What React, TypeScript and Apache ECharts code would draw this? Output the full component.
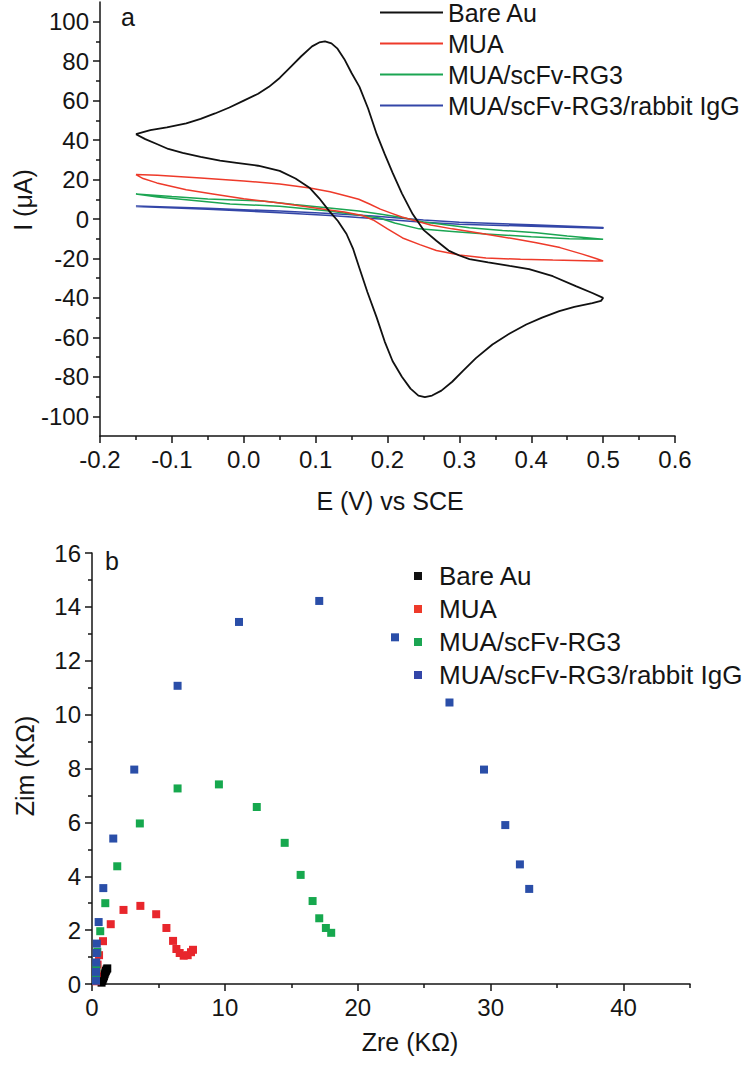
import React, { useEffect, useRef } from "react";
import * as echarts from "echarts";

// ---------- Panel a: cyclic voltammetry (E in V, I in µA) ----------
const seriesNames = ["Bare Au", "MUA", "MUA/scFv-RG3", "MUA/scFv-RG3/rabbit IgG"];

const cvBareAu: number[][] = [
  [-0.15, 43], [-0.13, 45], [-0.107, 46.5], [-0.08, 48.5], [-0.06, 50.8], [-0.04, 53.5], [-0.02, 56.5],
  [0.0, 60], [0.02, 63.5], [0.035, 67], [0.05, 71.5], [0.065, 77], [0.08, 82.5], [0.095, 87.5],
  [0.105, 89.5], [0.113, 90], [0.122, 89], [0.13, 86.5], [0.14, 81], [0.15, 74], [0.161, 67],
  [0.173, 56], [0.185, 43], [0.196, 33], [0.207, 23.5], [0.22, 13], [0.235, 2.5], [0.25, -5.5],
  [0.268, -11], [0.285, -16], [0.3, -18.5], [0.314, -20.3], [0.34, -22], [0.37, -23.8], [0.397, -25.4],
  [0.43, -29], [0.462, -34], [0.485, -37.5], [0.5, -40],
  [0.497, -41.5], [0.485, -42.6], [0.46, -44.5], [0.439, -46.7], [0.415, -50], [0.393, -53.5],
  [0.37, -58], [0.346, -63.6], [0.323, -70.5], [0.305, -77], [0.29, -82.5], [0.275, -87], [0.262, -89.5],
  [0.252, -90.3], [0.243, -89.5], [0.232, -86], [0.22, -80], [0.207, -72], [0.196, -62], [0.185, -50],
  [0.172, -37], [0.161, -25], [0.152, -15], [0.143, -7.6], [0.131, -1], [0.119, 4], [0.105, 10.5],
  [0.092, 15.7], [0.072, 20.5], [0.05, 24.4], [0.02, 27], [-0.01, 28.5], [-0.033, 29.6], [-0.06, 31.5],
  [-0.085, 33.5], [-0.105, 35.5], [-0.121, 38], [-0.137, 40.5], [-0.15, 43],
];

const cvMUA: number[][] = [
  [-0.15, 22.5], [-0.12, 22.2], [-0.06, 20.8], [0.0, 19.3], [0.05, 17.8], [0.092, 15.7], [0.12, 13.8],
  [0.143, 11.7], [0.16, 10], [0.175, 7.6], [0.19, 5], [0.205, 3], [0.22, 1], [0.235, -0.5], [0.26, -3],
  [0.29, -5], [0.314, -6.3], [0.35, -8.5], [0.38, -10.3], [0.407, -12], [0.44, -14.5], [0.471, -17.8],
  [0.49, -20], [0.5, -21.3],
  [0.49, -21.3], [0.46, -21], [0.43, -20.8], [0.385, -20.4], [0.337, -19.8], [0.3, -18.3], [0.268, -16],
  [0.245, -13], [0.221, -9.6], [0.2, -5], [0.18, -0.5], [0.165, 1.8], [0.14, 3.5], [0.119, 4.6],
  [0.085, 6.3], [0.05, 8.1], [0.0, 10.3], [-0.043, 12.7], [-0.08, 14.8], [-0.121, 18.3], [-0.14, 20.5],
  [-0.15, 22.5],
];

const cvScFv: number[][] = [
  [-0.15, 12.7], [-0.1, 11.4], [-0.05, 10.2], [0.026, 9.1], [0.07, 7.4], [0.119, 5.6], [0.16, 4],
  [0.189, 2.5], [0.22, 0.8], [0.25, -1.5], [0.314, -4.4], [0.36, -5.8], [0.407, -7], [0.45, -8.6],
  [0.5, -10.3],
  [0.453, -10], [0.4, -9], [0.337, -7.6], [0.29, -6.3], [0.244, -5], [0.21, -2], [0.189, 0.5],
  [0.119, 4], [0.05, 6.5], [-0.019, 7.6], [-0.08, 9.8], [-0.12, 11.2], [-0.15, 12.7],
];

const cvRabbitIgG: number[][] = [
  [-0.15, 6.6], [-0.05, 5.4], [0.05, 4.0], [0.12, 2.8], [0.18, 1.5], [0.25, -0.5], [0.3, -1.6],
  [0.4, -2.9], [0.5, -4.3],
  [0.5, -4.7], [0.4, -3.7], [0.3, -2.6], [0.25, -1.6], [0.18, 0.3], [0.12, 1.8], [0.05, 3.2],
  [-0.05, 4.9], [-0.15, 6.3],
];

// ---------- Panel b: Nyquist plots (Zre, Zim in kΩ) ----------
const eisBareAu: number[][] = [
  [0.72, 0.05], [0.78, 0.12], [0.84, 0.2], [0.9, 0.28], [0.95, 0.36], [1.0, 0.43], [1.05, 0.49],
  [1.1, 0.54], [1.15, 0.58],
];

const eisMUA: number[][] = [
  [0.3, 0.1], [0.35, 0.4], [0.42, 0.72], [0.53, 1.07], [0.83, 1.59], [1.41, 2.22], [2.37, 2.75],
  [3.64, 2.9], [4.83, 2.59], [5.6, 2.08], [6.1, 1.6], [6.35, 1.3], [6.6, 1.15], [6.9, 1.05],
  [7.2, 1.07], [7.45, 1.18], [7.6, 1.27],
];

const eisScFv: number[][] = [
  [0.3, 0.2], [0.33, 0.6], [0.4, 1.2], [0.62, 1.96], [1.0, 3.0], [1.9, 4.37], [3.6, 5.96], [6.44, 7.26],
  [9.55, 7.41], [12.4, 6.57], [14.5, 5.24], [15.7, 4.05], [16.6, 3.08], [17.1, 2.44], [17.6, 2.08],
  [18.0, 1.9],
];

const eisRabbitIgG: number[][] = [
  [0.3, 0.12], [0.3, 0.45], [0.32, 0.8], [0.35, 1.15], [0.36, 1.5], [0.5, 2.3], [0.85, 3.56], [1.6, 5.4],
  [3.18, 7.96], [6.44, 11.07], [11.06, 13.44], [17.1, 14.22], [22.8, 12.87], [26.9, 10.45],
  [29.5, 7.96], [31.1, 5.9], [32.2, 4.44], [32.9, 3.53],
];

// ---------- Tick values ----------
const cvYMajor = [-100, -80, -60, -40, -20, 0, 20, 40, 60, 80, 100];
const cvYMinor = [-90, -70, -50, -30, -10, 10, 30, 50, 70, 90];
const eisXMajor = [0, 10, 20, 30, 40];
const eisXMinor = [5, 15, 25, 35, 45];

const cvColors = ["#111111", "#ee3a2a", "#1ba552", "#3346a8"];
const eisColors = ["#000000", "#e8262c", "#16a84e", "#2a4ea8"];

const FONT = "'Liberation Sans', Arial, Helvetica, sans-serif";
const INK = "#151515";

export default function App() {
  const ref = useRef<HTMLDivElement>(null);

  useEffect(() => {
    if (!ref.current) return;
    const chart = echarts.init(ref.current, undefined, { renderer: "svg" });

    const lineStyle = { color: INK, width: 1.5 };
    const label = { color: INK, fontSize: 24, fontFamily: FONT };
    const axisLine = { show: true, onZero: false, lineStyle };

    const cvData = [cvBareAu, cvMUA, cvScFv, cvRabbitIgG];
    const eisData = [eisBareAu, eisMUA, eisScFv, eisRabbitIgG];

    const option: any = {
      animation: false,
      backgroundColor: "#ffffff",
      grid: [
        { left: 100, top: 2, width: 575, height: 434 },
        { left: 92, top: 553, width: 598, height: 431 },
      ],
      xAxis: [
        {
          gridIndex: 0, type: "value", min: -0.2, max: 0.6, interval: 0.1,
          axisLine,
          axisTick: { show: true, inside: false, length: 7, lineStyle },
          minorTick: { show: true, splitNumber: 2, length: 4, lineStyle },
          splitLine: { show: false },
          axisLabel: { ...label, margin: 11, formatter: (v: number) => v.toFixed(1) },
        },
        {
          gridIndex: 1, type: "value", min: 0, max: 45, position: "bottom",
          axisLine,
          axisTick: { show: true, inside: false, length: 7, lineStyle, customValues: eisXMajor },
          splitLine: { show: false },
          axisLabel: { ...label, margin: 11, customValues: eisXMajor },
        },
        {
          gridIndex: 1, type: "value", min: 0, max: 45, position: "bottom",
          axisLine: { show: false, onZero: false },
          axisTick: { show: true, inside: false, length: 4, lineStyle, customValues: eisXMinor },
          splitLine: { show: false },
          axisLabel: { show: false },
        },
      ],
      yAxis: [
        {
          gridIndex: 0, type: "value", min: -110, max: 110, position: "left",
          axisLine,
          axisTick: { show: true, inside: false, length: 7, lineStyle, customValues: cvYMajor },
          splitLine: { show: false },
          axisLabel: { ...label, margin: 11, customValues: cvYMajor },
        },
        {
          gridIndex: 0, type: "value", min: -110, max: 110, position: "left",
          axisLine: { show: false, onZero: false },
          axisTick: { show: true, inside: false, length: 4, lineStyle, customValues: cvYMinor },
          splitLine: { show: false },
          axisLabel: { show: false },
        },
        {
          gridIndex: 1, type: "value", min: 0, max: 16, interval: 2, position: "left",
          axisLine,
          axisTick: { show: true, inside: false, length: 7, lineStyle },
          minorTick: { show: true, splitNumber: 2, length: 4, lineStyle },
          splitLine: { show: false },
          axisLabel: { ...label, margin: 11 },
        },
      ],
      legend: [
        {
          left: 380, top: 0, orient: "vertical", icon: "rect", itemWidth: 63, itemHeight: 2,
          itemGap: 6, padding: 0, selectedMode: false, data: seriesNames,
          textStyle: { color: INK, fontSize: 25, lineHeight: 24, fontFamily: FONT },
        },
        {
          left: 414, top: 563, orient: "vertical", icon: "rect", itemWidth: 8, itemHeight: 8,
          itemGap: 7, padding: 0, selectedMode: false, data: seriesNames,
          itemStyle: { opacity: 1 },
          textStyle: { color: INK, fontSize: 26, lineHeight: 24, fontFamily: FONT, padding: [0, 0, 0, 12] },
        },
      ],
      series: [
        ...cvData.map((d, i) => ({
          name: seriesNames[i], type: "line", xAxisIndex: 0, yAxisIndex: 0, data: d,
          showSymbol: false, symbol: "none", smooth: false, color: cvColors[i],
          lineStyle: { color: cvColors[i], width: i === 0 ? 1.8 : 1.5 }, z: 4 - i,
        })),
        ...eisData.map((d, i) => ({
          name: seriesNames[i], type: "scatter", xAxisIndex: 1, yAxisIndex: 2, data: d,
          symbol: "rect", symbolSize: 8, color: eisColors[i],
          itemStyle: { color: eisColors[i], opacity: 1 },
        })),
      ],
      graphic: [
        { type: "text", x: 128, y: 17, style: { text: "a", fontSize: 25, fontFamily: FONT, fill: INK, align: "center", verticalAlign: "middle" } },
        { type: "text", x: 112, y: 561, style: { text: "b", fontSize: 25, fontFamily: FONT, fill: INK, align: "center", verticalAlign: "middle" } },
        { type: "text", x: 23, y: 200, rotation: Math.PI / 2, style: { text: "I (μA)", fontSize: 25, fontFamily: FONT, fill: INK, align: "center", verticalAlign: "middle" } },
        { type: "text", x: 390, y: 501, style: { text: "E (V) vs SCE", fontSize: 25, fontFamily: FONT, fill: INK, align: "center", verticalAlign: "middle" } },
        { type: "text", x: 25, y: 766, rotation: Math.PI / 2, style: { text: "Zim (KΩ)", fontSize: 25, fontFamily: FONT, fill: INK, align: "center", verticalAlign: "middle" } },
        { type: "text", x: 410, y: 1042, style: { text: "Zre (KΩ)", fontSize: 25, fontFamily: FONT, fill: INK, align: "center", verticalAlign: "middle" } },
      ],
    };

    chart.setOption(option);
    return () => chart.dispose();
  }, []);

  return (
    <div
      ref={ref}
      style={{ position: "absolute", left: 0, top: 0, width: 750, height: 1066, background: "#fff" }}
    />
  );
}
